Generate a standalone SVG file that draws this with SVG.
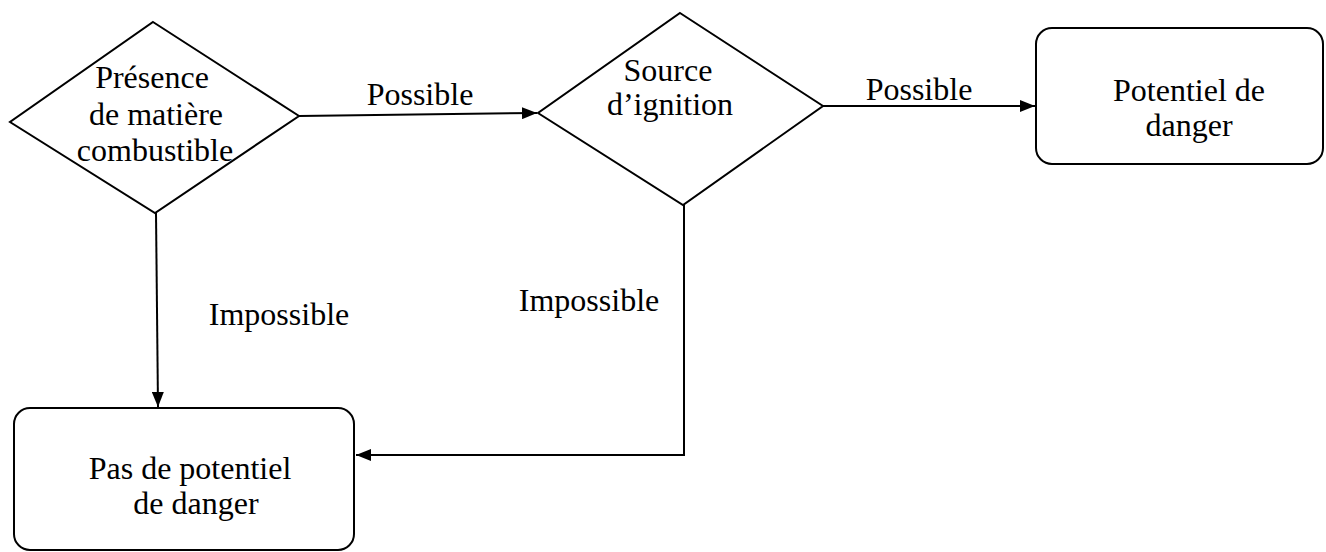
<svg xmlns="http://www.w3.org/2000/svg" width="1326" height="552" viewBox="0 0 1326 552">
<style>
.shape{fill:#fff;stroke:#000;stroke-width:2;stroke-linejoin:miter}
.conn{fill:none;stroke:#000;stroke-width:2}
text{font-family:"Liberation Serif","Times New Roman",serif;font-size:32px;fill:#000;text-anchor:middle}
</style>
<defs>
<marker id="arr" viewBox="0 0 10 10" refX="10" refY="5" markerWidth="15" markerHeight="12" markerUnits="userSpaceOnUse" orient="auto" preserveAspectRatio="none">
<path d="M0,0 L10,5 L0,10 Z" fill="#000"/>
</marker>
</defs>
<rect width="1326" height="552" fill="#fff"/>
<g id="connectors">
<line class="conn" x1="299" y1="116" x2="537" y2="113" marker-end="url(#arr)"/>
<line class="conn" x1="823" y1="106" x2="1035" y2="106" marker-end="url(#arr)"/>
<line class="conn" x1="156" y1="213" x2="158" y2="407" marker-end="url(#arr)"/>
<polyline class="conn" points="684,205 684,455 356,455" marker-end="url(#arr)"/>
</g>
<g id="n1">
<polygon class="shape" points="153,22 299,116 155,213 10,122"/>
<text x="152" y="88">Présence</text>
<text x="156" y="125">de matière</text>
<text x="155" y="161">combustible</text>
</g>
<g id="n2">
<polygon class="shape" points="680,13 823,106 683,205 538,113"/>
<text x="668" y="81">Source</text>
<text x="670" y="115">d’ignition</text>
</g>
<g id="n3">
<rect class="shape" x="1036" y="28" width="287" height="136" rx="16"/>
<text x="1189" y="101">Potentiel de</text>
<text x="1189" y="136">danger</text>
</g>
<g id="n4">
<rect class="shape" x="14" y="408" width="340" height="142" rx="16"/>
<text x="190" y="479">Pas de potentiel</text>
<text x="196" y="514">de danger</text>
</g>
<g id="labels">
<text x="420" y="105">Possible</text>
<text x="919" y="100">Possible</text>
<text x="279" y="325">Impossible</text>
<text x="589" y="311">Impossible</text>
</g>
</svg>
